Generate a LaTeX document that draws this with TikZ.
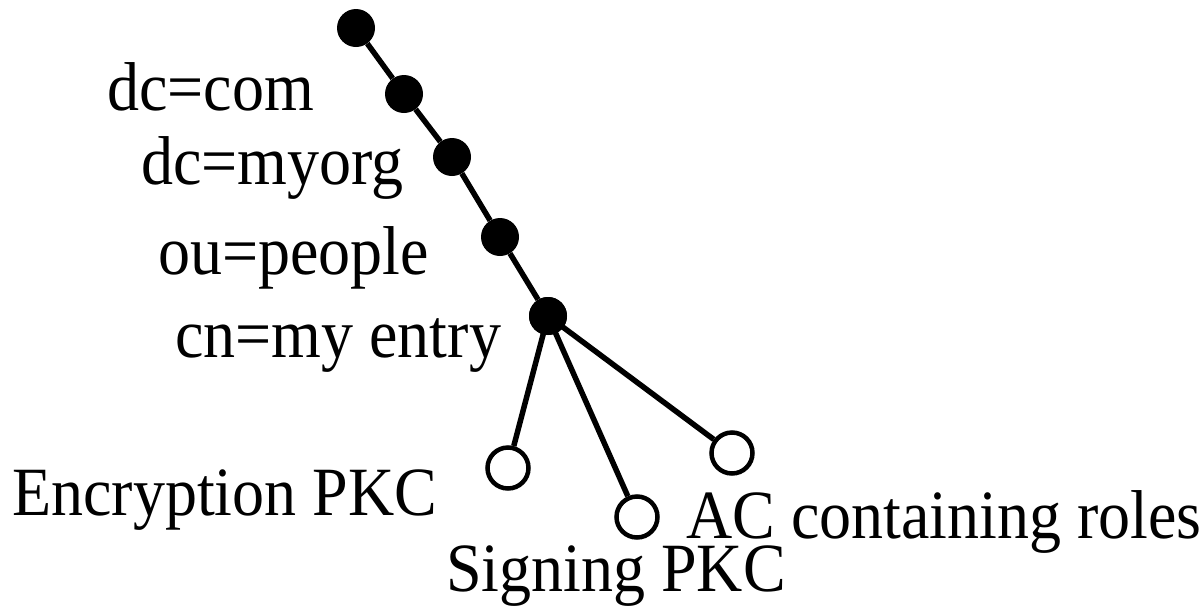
\documentclass[tikz,border=0pt]{standalone}
\usepackage{graphicx}
\usepackage{fontspec}
\setmainfont{Liberation Serif}
\newcommand{\tallt}[1]{\scalebox{1}[1.08]{#1}}
\begin{document}
\begin{tikzpicture}[x=1pt,y=-1pt,
  full/.style={circle,fill=black,inner sep=0pt,minimum size=38pt},
  open/.style={circle,draw=black,line width=4.5pt,fill=white,inner sep=0pt,minimum size=41pt},
  lbl/.style={anchor=base west,inner sep=0pt,font=\fontsize{64}{70}\selectfont},
  edge/.style={line width=5.5pt}]
\useasboundingbox (0,0) rectangle (1204,611);
\node[full] (n0) at (356,28) {};
\node[full] (n1) at (404,94) {};
\node[full] (n2) at (452,157) {};
\node[full] (n3) at (500,237) {};
\node[full] (n4) at (548,316) {};
\node[open] (e1) at (508,468) {};
\node[open] (e2) at (637,517) {};
\node[open] (e3) at (732,453) {};
\draw[edge] (n0) -- (n1) -- (n2) -- (n3) -- (n4);
\draw[edge] (n4.center) -- (e1);
\draw[edge] (n4.center) -- (e2);
\draw[edge] (n4.center) -- (e3);
\node[full] at (n4) {};
\node[lbl] (t0) at (107,110) {\tallt{dc=com}};
\node[lbl] (t1) at (141,184) {\tallt{dc=myorg}};
\node[lbl] (t2) at (158,274) {\tallt{ou=people}};
\node[lbl] (t3) at (175,357) {\tallt{cn=my entry}};
\node[lbl] (t4) at (12,515) {\tallt{Encryption PKC}};
\node[lbl] (t5) at (446,591) {\tallt{Signing PKC}};
\node[lbl] (t6) at (686,538) {\tallt{AC containing roles}};
\end{tikzpicture}
\end{document}
